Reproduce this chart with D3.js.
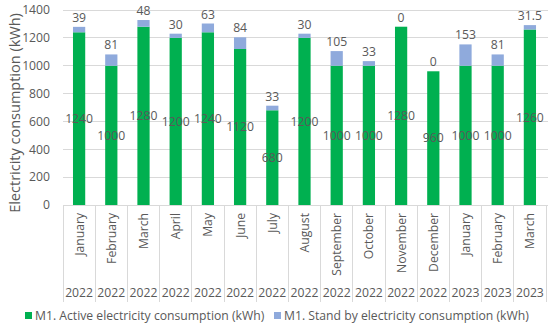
<!DOCTYPE html>
<html><head><meta charset="utf-8">
<script src="https://cdn.jsdelivr.net/npm/d3@7"></script>
<style>body{margin:0;background:#fff}svg{display:block}text{font-family:"Open Sans",sans-serif;fill:#595959}</style>
</head><body><svg id="c" width="550" height="332"></svg>
<script>
const months = ["January","February","March","April","May","June","July","August","September","October","November","December","January","February","March"];
const years = ["2022","2022","2022","2022","2022","2022","2022","2022","2022","2022","2022","2022","2023","2023","2023"];
const active = [1240,1000,1280,1200,1240,1120,680,1200,1000,1000,1280,960,1000,1000,1260];
const standby = [39,81,48,30,63,84,33,30,105,33,0,0,153,81,31.5];
const standbyLabels = ["39","81","48","30","63","84","33","30","105","33","0","0","153","81","31.5"];
const yTicks = [0,200,400,600,800,1000,1200,1400];
const seriesNames = ["M1. Active electricity consumption (kWh)","M1. Stand by electricity consumption (kWh)"];
const colors = ["#00B050","#8FAADC"];

const svg = d3.select("#c");
const L = 63, R = 546, T = 10, B = 205;
const idx = d3.range(months.length);
const x = d3.scaleBand().domain(idx).range([L, R]).paddingInner(0.62).paddingOuter(0.31);
const xb = d3.scaleBand().domain(idx).range([L, R]);
const y = d3.scaleLinear().domain([0, 1400]).range([B, T]);
const fs = 12.2;

svg.append("g").selectAll("line").data(yTicks).join("line")
  .attr("x1", L).attr("x2", 548).attr("y1", d => y(d)).attr("y2", d => y(d))
  .attr("stroke", "#d9d9d9").attr("stroke-width", 1).attr("shape-rendering","crispEdges");
svg.append("g").selectAll("text").data(yTicks).join("text")
  .attr("x", 50).attr("y", d => y(d)).attr("dy", "0.35em").attr("text-anchor", "end")
  .attr("font-size", fs).text(d => d);
svg.append("text").attr("transform", `translate(15,113) rotate(-90)`).attr("dy","0.35em")
  .attr("text-anchor", "middle").attr("font-size", 14.5).text("Electricity consumption (kWh)");

const stack = d3.stack().keys([0,1]).value((i, k) => k === 0 ? active[i] : standby[i]);
const layers = stack(idx);
svg.append("g").selectAll("g").data(layers).join("g").attr("fill", (d, k) => colors[k])
  .selectAll("rect").data(d => d).join("rect")
  .attr("x", d => x(d.data)).attr("width", x.bandwidth())
  .attr("y", d => y(d[1])).attr("height", d => y(d[0]) - y(d[1]));

svg.append("g").selectAll("line").data(d3.range(months.length + 1)).join("line")
  .attr("x1", i => L + i * xb.step()).attr("x2", i => L + i * xb.step())
  .attr("y1", B).attr("y2", 302).attr("stroke", "#d9d9d9").attr("shape-rendering","crispEdges");
svg.append("line").attr("x1", L).attr("x2", 548).attr("y1", B).attr("y2", B)
  .attr("stroke", "#d9d9d9").attr("shape-rendering","crispEdges");

svg.append("g").selectAll("text").data(idx).join("text")
  .attr("x", i => xb(i) + xb.bandwidth()/2).attr("y", i => y(active[i]/2)).attr("dy","0.35em")
  .attr("text-anchor","middle").attr("font-size", fs).text(i => active[i]);
svg.append("g").selectAll("text").data(idx).join("text")
  .attr("x", i => xb(i) + xb.bandwidth()/2).attr("y", i => y(active[i] + standby[i]) - 5)
  .attr("text-anchor","middle").attr("font-size", fs).text(i => standbyLabels[i]);

svg.append("g").selectAll("text").data(idx).join("text")
  .attr("transform", i => `translate(${xb(i) + xb.bandwidth()/2 + 4.5},213) rotate(-90)`)
  .attr("text-anchor","end").attr("font-size", fs).text(i => months[i]);
svg.append("g").selectAll("text").data(idx).join("text")
  .attr("x", i => xb(i) + xb.bandwidth()/2).attr("y", 293).attr("dy","0.35em")
  .attr("text-anchor","middle").attr("font-size", fs).text(i => years[i]);

const leg = svg.append("g");
const legX = [25, 274];
seriesNames.forEach((n, k) => {
  leg.append("rect").attr("x", legX[k]).attr("y", 312).attr("width", 7).attr("height", 7).attr("fill", colors[k]);
  leg.append("text").attr("x", legX[k] + 10).attr("y", 316).attr("dy","0.35em").attr("font-size", fs).text(n);
});
</script></body></html>
